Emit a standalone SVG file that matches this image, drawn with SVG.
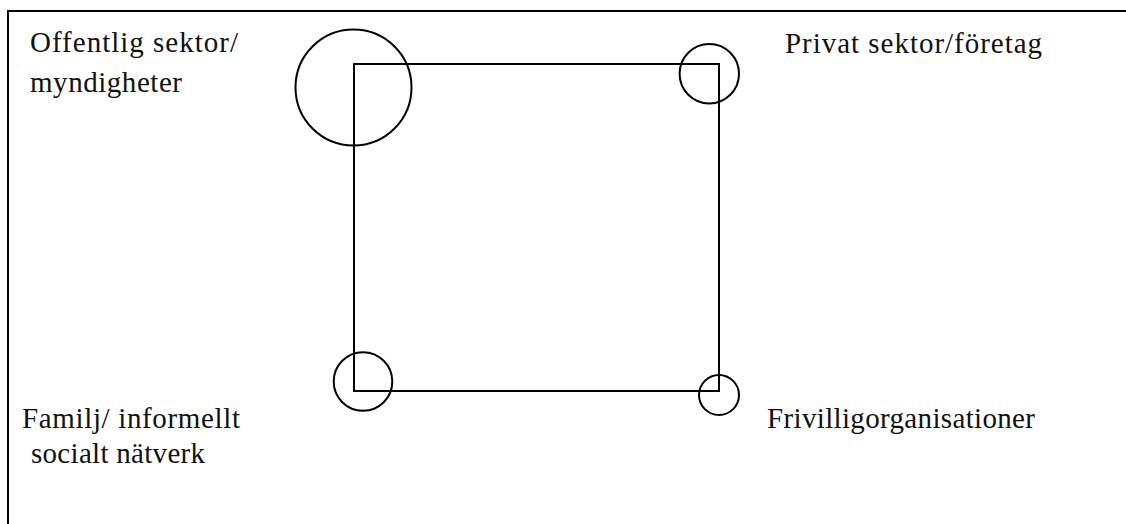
<svg xmlns="http://www.w3.org/2000/svg" width="1126" height="524" viewBox="0 0 1126 524">
<style>
.ln{fill:none;stroke:#000;stroke-width:2}
.t{font-family:'Liberation Serif',serif;font-size:29px;fill:#111}
</style>
<rect x="0" y="0" width="1126" height="524" fill="#fff"/>
<g id="frame">
<path class="ln" d="M8,524 V11 H1126"/>
</g>
<g id="connectors">
<rect class="ln" x="354" y="64" width="365" height="327"/>
</g>
<g id="node-offentlig">
<circle class="ln" cx="353.5" cy="87.5" r="58"/>
<text class="t" x="30" y="52" textLength="208" lengthAdjust="spacing">Offentlig sektor/</text>
<text class="t" x="30" y="92" textLength="152" lengthAdjust="spacing">myndigheter</text>
</g>
<g id="node-privat">
<circle class="ln" cx="709.3" cy="73.7" r="29.7"/>
<text class="t" x="785" y="53" textLength="257" lengthAdjust="spacing">Privat sektor/företag</text>
</g>
<g id="node-familj">
<circle class="ln" cx="363" cy="381.5" r="29.3"/>
<text class="t" x="22" y="428" textLength="218" lengthAdjust="spacing">Familj/ informellt</text>
<text class="t" x="31" y="463" textLength="174" lengthAdjust="spacing">socialt nätverk</text>
</g>
<g id="node-frivillig">
<circle class="ln" cx="719" cy="395" r="20"/>
<text class="t" x="767" y="428" textLength="268" lengthAdjust="spacing">Frivilligorganisationer</text>
</g>
</svg>
